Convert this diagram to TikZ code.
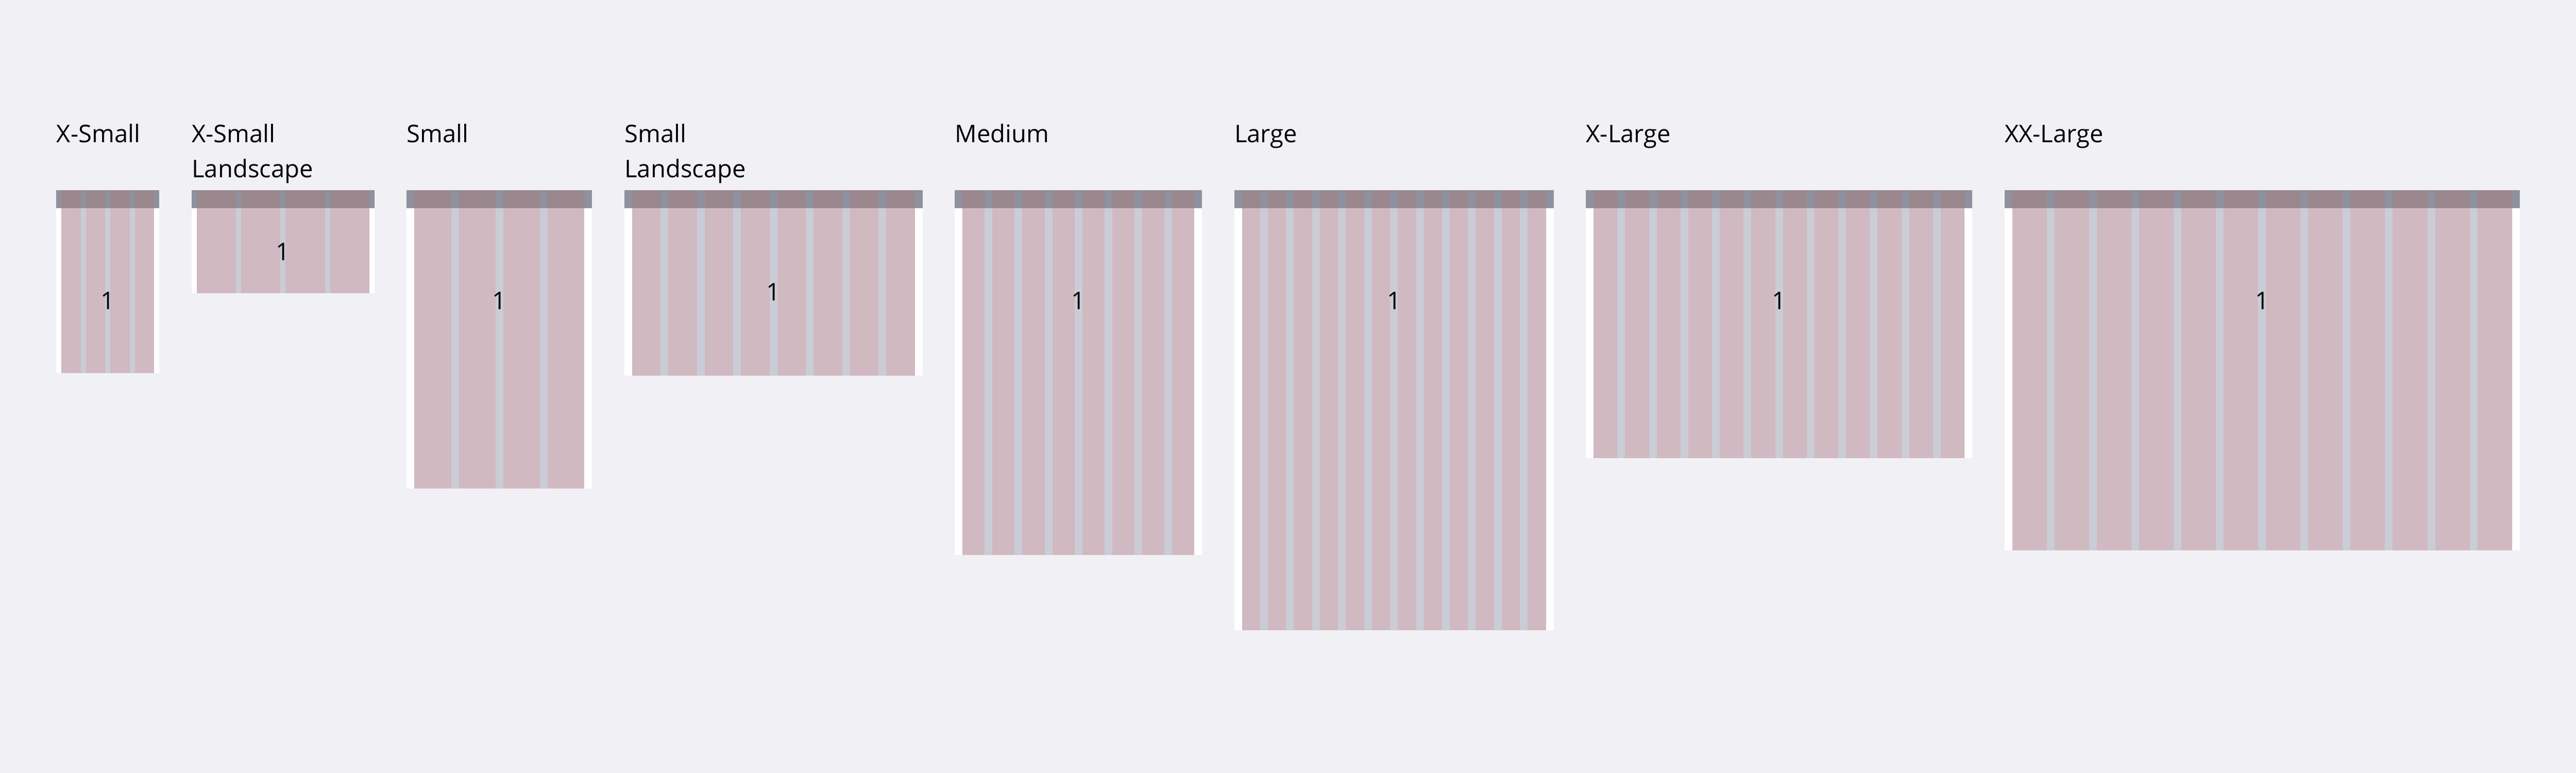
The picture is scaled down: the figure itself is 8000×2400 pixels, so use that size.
\documentclass[tikz,border=0pt]{standalone}
\usepackage{fontspec}
\setmainfont{Open Sans}
\usetikzlibrary{positioning}
\definecolor{pagebg}{HTML}{F1F0F5}
\definecolor{barbg}{HTML}{8F919E}
\definecolor{barcol}{HTML}{9B878E}
\definecolor{guttercol}{HTML}{CACCD6}
\definecolor{columncol}{HTML}{D0B9C1}

\begin{document}
\begin{tikzpicture}[x=0.1mm, y=-0.1mm,
      every node/.append style={inner sep=0pt,font=\fontsize{21.5}{31}\selectfont},
      title/.style={anchor=base west,align=left},
      count/.style={anchor=base}]
    \tikzstyle{screen} = [fill=white]
    \tikzstyle{bar} = [fill=barbg]
    \tikzstyle{barcolumn} = [fill=barcol]
    \tikzstyle{gutter} = [fill=guttercol]
    \tikzstyle{column} = [fill=columncol]
    \fill[pagebg] (0,0) rectangle (8000,2400);
    % name / left / width / height / columns / margin / baseline of 1 / baseline of title / title
    \foreach \name/\x/\w/\h/\n/\m/\ny/\ty/\lab in {
        xs/175/320/568/4/16/960/442/{X-Small},
        xsl/595/568/320/4/16/808/551/{X-Small\\Landscape},
        sm/1263/576/926/4/24/960/442/{Small},
        sml/1939/926/576/8/24/934/551/{Small\\Landscape},
        md/2965/768/1132/8/24/960/442/{Medium},
        lg/3833/992/1366/12/24/960/442/{Large},
        xl/4925/1200/832/12/24/960/442/{X-Large},
        xxl/6225/1600/1117/12/24/960/442/{XX-Large}}
    {
      \pgfmathsetmacro\colw{(\w-(\n+1)*\m)/\n}
      \path[screen] (\x,591) rectangle ++(\w,\h);
      \path[gutter] (\x+\m,647) rectangle (\x+\w-\m,591+\h);
      \path[bar] (\x,591) rectangle ++(\w,56);
      \foreach \i in {1,...,\n} {
        \pgfmathsetmacro\lx{\x+\m+(\i-1)*(\colw+\m)}
        \path[barcolumn] (\lx,591) rectangle ++(\colw,56);
        \path[column] (\lx,647) rectangle (\lx+\colw,591+\h);
      }
      \node (\name-title) [title] at (\x,\ty) {\lab};
      \node (\name-num) [count] at (\x+\w/2,\ny) {1};
    }
\end{tikzpicture}
\end{document}
